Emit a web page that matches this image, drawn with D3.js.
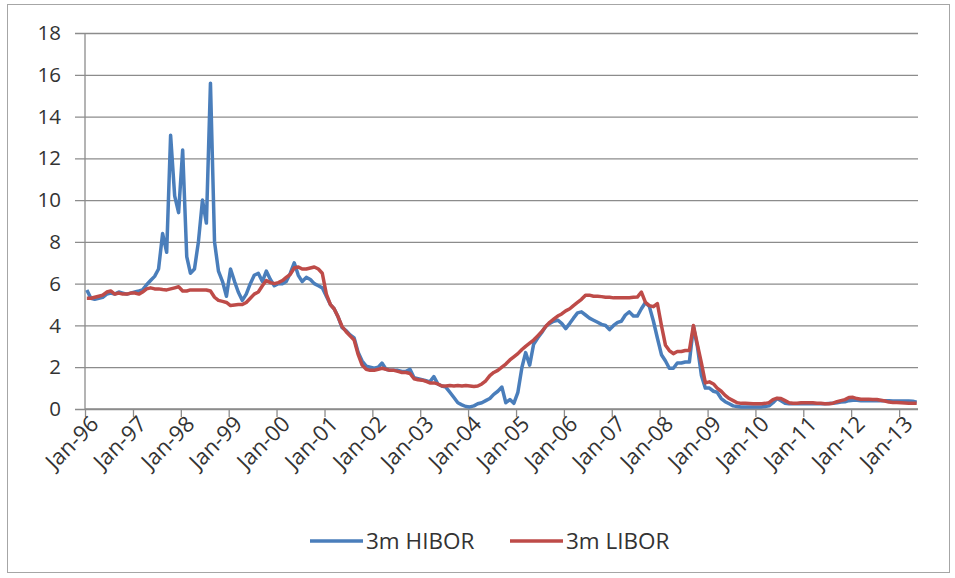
<!doctype html>
<html>
  <head>
    <script src="https://cdnjs.cloudflare.com/ajax/libs/d3/7.8.5/d3.min.js"></script>
    <style>
      body { margin: 0; background: #fff; }
      text { font-family: "Open Sans", sans-serif; fill: #333; }
    </style>
  </head>
  <body>
    <svg width="955" height="578"></svg>
    <script>
        // monthly values, Jan-96 .. May-13
        var hibor = [
            5.7, 5.3, 5.25, 5.3, 5.35, 5.5, 5.55, 5.5, 5.6, 5.55, 5.5, 5.55,
            5.6, 5.65, 5.7, 5.95, 6.15, 6.35, 6.7, 8.4, 7.5, 13.1, 10.2, 9.4,
            12.4, 7.3, 6.5, 6.7, 8.0, 10.0, 8.9, 15.6, 8.0, 6.6, 6.1, 5.4,
            6.7, 6.1, 5.6, 5.2, 5.5, 6.0, 6.4, 6.5, 6.1, 6.6, 6.2, 5.9,
            6.0, 6.0, 6.1, 6.5, 7.0, 6.4, 6.1, 6.3, 6.2, 6.0, 5.9, 5.8,
            5.4, 5.0, 4.8, 4.4, 3.9, 3.75, 3.55, 3.4, 2.7, 2.3, 2.05, 2.0,
            1.95, 2.0, 2.2, 1.9, 1.85, 1.85, 1.85, 1.8, 1.8, 1.9, 1.5, 1.45,
            1.4, 1.35, 1.3, 1.55, 1.2, 1.1, 1.05, 0.8, 0.55, 0.3, 0.2, 0.12,
            0.1, 0.15, 0.25, 0.3, 0.4, 0.5, 0.7, 0.85, 1.05, 0.3, 0.45, 0.27,
            0.8, 2.0, 2.7, 2.1, 3.1, 3.4, 3.65, 3.95, 4.1, 4.2, 4.25, 4.1,
            3.85, 4.1, 4.35, 4.6, 4.65, 4.5, 4.35, 4.25, 4.15, 4.05, 4.0, 3.8,
            4.0, 4.15, 4.2, 4.5, 4.65, 4.45, 4.45, 4.8, 5.1, 4.9, 4.2, 3.4,
            2.6, 2.3, 1.95, 1.95, 2.2, 2.2, 2.25, 2.25, 3.94, 3.0, 1.6, 1.0,
            1.0, 0.85, 0.8, 0.5, 0.35, 0.25, 0.15, 0.12, 0.1, 0.1, 0.1, 0.1,
            0.1, 0.1, 0.12, 0.15, 0.3, 0.5, 0.4, 0.28, 0.25, 0.25, 0.25, 0.25,
            0.25, 0.25, 0.25, 0.25, 0.25, 0.25, 0.26, 0.27, 0.3, 0.33, 0.35, 0.4,
            0.42, 0.42, 0.4, 0.4, 0.4, 0.4, 0.4, 0.4, 0.4, 0.39, 0.38, 0.38,
            0.38, 0.38, 0.38, 0.37, 0.33
        ];
        var libor = [
            5.3, 5.3, 5.35, 5.4, 5.45, 5.6, 5.65, 5.5, 5.55, 5.5, 5.5, 5.55,
            5.55, 5.5, 5.6, 5.75, 5.8, 5.75, 5.75, 5.72, 5.7, 5.75, 5.8, 5.85,
            5.65, 5.65, 5.7, 5.7, 5.7, 5.7, 5.7, 5.65, 5.35, 5.2, 5.15, 5.1,
            4.95, 4.98, 5.0, 5.0, 5.1, 5.3, 5.5, 5.6, 5.9, 6.15, 6.05, 6.0,
            6.05, 6.15, 6.3, 6.45, 6.75, 6.8, 6.7, 6.7, 6.75, 6.8, 6.7, 6.5,
            5.5, 5.0, 4.8, 4.4, 3.95, 3.7, 3.5, 3.3, 2.6, 2.1, 1.9, 1.85,
            1.85, 1.9, 1.95, 1.9, 1.85, 1.85, 1.8, 1.75, 1.75, 1.7, 1.45, 1.4,
            1.38, 1.32, 1.25, 1.25, 1.2, 1.1, 1.1, 1.12, 1.1, 1.12, 1.1, 1.12,
            1.1, 1.08, 1.1, 1.2, 1.35, 1.6, 1.75, 1.85, 2.0, 2.15, 2.35, 2.5,
            2.65, 2.85, 3.0, 3.15, 3.3, 3.5, 3.7, 3.95, 4.15, 4.3, 4.45, 4.55,
            4.7, 4.8, 4.95, 5.1, 5.25, 5.45, 5.45, 5.4, 5.4, 5.38, 5.35, 5.35,
            5.32, 5.32, 5.32, 5.32, 5.33, 5.35, 5.36, 5.6, 5.1, 4.95, 4.9, 5.05,
            4.0, 3.05, 2.8, 2.65, 2.75, 2.75, 2.8, 2.8, 4.0, 3.1, 2.2, 1.25,
            1.3, 1.2, 1.0, 0.85, 0.65, 0.5, 0.4, 0.3, 0.27, 0.27, 0.26, 0.25,
            0.25, 0.25, 0.27, 0.3, 0.45, 0.52, 0.5, 0.4, 0.3, 0.28, 0.28, 0.3,
            0.3, 0.3, 0.3, 0.28, 0.27, 0.25, 0.25, 0.28, 0.35, 0.4, 0.45, 0.55,
            0.56, 0.5, 0.47, 0.47, 0.47, 0.46, 0.45, 0.42, 0.38, 0.33, 0.31, 0.31,
            0.3, 0.29, 0.28, 0.27, 0.27
        ];
        var xTickLabels = ["Jan-96", "Jan-97", "Jan-98", "Jan-99", "Jan-00", "Jan-01",
            "Jan-02", "Jan-03", "Jan-04", "Jan-05", "Jan-06", "Jan-07", "Jan-08",
            "Jan-09", "Jan-10", "Jan-11", "Jan-12", "Jan-13"];
        var yTicks = [0, 2, 4, 6, 8, 10, 12, 14, 16, 18];
        var seriesNames = ["3m HIBOR", "3m LIBOR"];
        var colors = ["#4a7ebb", "#be4b48"];

        var parse = d3.timeParse("%b-%y");
        // observations plotted at mid-month
        var months = hibor.map((d, i) => new Date(1996, i, 15));

        var svg = d3.select("svg");

        svg.append("rect")
            .attr("x", 7.5).attr("y", 4.5)
            .attr("width", 942).attr("height", 568)
            .style("fill", "none").style("stroke", "#a6a6a6");

        var xScale = d3.scaleTime()
            .domain([new Date(1996, 0, 1), new Date(2013, 4, 25)])
            .range([85, 918]);
        var yScale = d3.scaleLinear().domain([0, 18]).range([409, 33]);

        // gridlines + y labels
        var yAxis = d3.axisLeft(yScale)
            .tickValues(yTicks)
            .tickSize(833 + 10)
            .tickPadding(14);
        var yG = svg.append("g").attr("transform", "translate(918,0)").call(yAxis);
        yG.select(".domain").remove();
        yG.selectAll(".tick line").style("stroke", "#8c8c8c").style("stroke-width", "1.3px");
        yG.selectAll(".tick text").style("font-size", "20.5px").style("fill", "#333")
            .style("font-family", "'Open Sans', sans-serif");

        // x axis
        var xAxis = d3.axisBottom(xScale)
            .tickValues(xTickLabels.map(parse))
            .tickSize(8)
            .tickFormat(d3.timeFormat("%b-%y"));
        var xG = svg.append("g").attr("transform", "translate(0,409)").call(xAxis);
        xG.select(".domain").attr("d", "M85,0H918").style("stroke", "#8c8c8c").style("stroke-width", "1.3px");
        xG.selectAll(".tick line").style("stroke", "#8c8c8c").style("stroke-width", "1.3px");
        xG.selectAll(".tick text")
            .style("font-size", "22px").style("fill", "#333")
            .style("font-family", "'Open Sans', sans-serif")
            .attr("text-anchor", "end")
            .attr("transform", "translate(9,11) rotate(-45)")
            .attr("dy", "0.35em").attr("y", 0).attr("x", 0);

        svg.append("line")
            .attr("x1", 85).attr("x2", 85).attr("y1", 33).attr("y2", 409)
            .style("stroke", "#8c8c8c").style("stroke-width", "1.3px");

        var line = d3.line().x((d, i) => xScale(months[i])).y(d => yScale(d));

        [hibor, libor].forEach((s, k) => {
            svg.append("path")
                .attr("d", line(s))
                .style("fill", "none")
                .style("stroke", colors[k])
                .style("stroke-width", "3.5px")
                .style("stroke-linejoin", "round");
        });

        // legend
        var legendX = [310, 510];
        seriesNames.forEach((n, k) => {
            svg.append("line")
                .attr("x1", legendX[k]).attr("x2", legendX[k] + 53)
                .attr("y1", 541).attr("y2", 541)
                .style("stroke", colors[k]).style("stroke-width", "3.5px");
            svg.append("text")
                .attr("x", legendX[k] + 56).attr("y", 549)
                .style("font-size", "22.5px")
                .text(n);
        });
    </script>
  </body>
</html>
